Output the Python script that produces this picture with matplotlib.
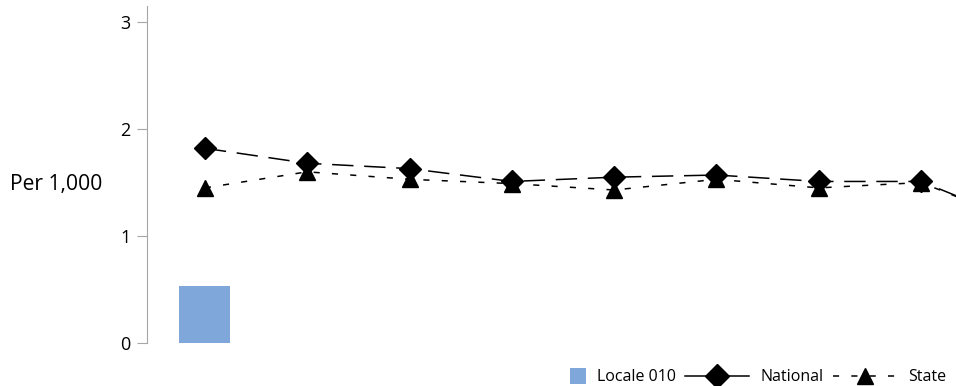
import matplotlib
matplotlib.use("Agg")
import matplotlib.pyplot as plt
from matplotlib.lines import Line2D
from matplotlib.patches import Patch, Rectangle
from matplotlib.legend_handler import HandlerPatch

plt.rcParams['font.family'] = ['Open Sans', 'DejaVu Sans']

# data (9th point is cut off by the right edge)
positions = list(range(9))
locale_vals = [0.53]
national = [1.82, 1.68, 1.63, 1.51, 1.55, 1.57, 1.51, 1.51, 1.12]
state = [1.45, 1.60, 1.53, 1.49, 1.43, 1.53, 1.45, 1.50, 1.12]
yticks = [0, 1, 2, 3]

bar_color = '#7FA7D9'
spine_gray = '#A6A6A6'

fig = plt.figure(figsize=(9.56, 3.86), dpi=100)
# axes run past the right edge of the figure, like the original
ax = fig.add_axes([147/956, 43/386, (979-147)/956, (343-6)/386])

ax.bar(positions[:len(locale_vals)], locale_vals, width=0.5, color=bar_color, zorder=1)
ax.plot(positions, national, color='black', lw=1.1, dashes=(14, 7),
        marker='D', ms=11, zorder=3)
ax.plot(positions, state, color='black', lw=1.1, dashes=(4, 8),
        marker='^', ms=11, zorder=2)

ax.set_xlim(-0.566, 7.566)
ax.set_ylim(0, 3.15)
ax.set_yticks(yticks)
ax.set_xticks([])
ax.tick_params(axis='y', direction='out', length=7, color=spine_gray,
               labelsize=13, pad=5)
for s in ['top', 'right', 'bottom']:
    ax.spines[s].set_visible(False)
ax.spines['left'].set_color(spine_gray)

fig.text(10/956, 1-185/386, 'Per 1,000', ha='left', va='center', fontsize=15.2)


def square_patch(legend, orig_handle, xdescent, ydescent, width, height, fontsize):
    s = fontsize * 1.0
    return Rectangle((-xdescent + width - s, -ydescent + (height - s) / 2), s, s)


loc_handle = Patch(facecolor=bar_color, edgecolor='none')
handles = [
    loc_handle,
    Line2D([], [], color='black', lw=1.1, marker='D', ms=12),
    Line2D([], [], color='black', lw=1.1, dashes=(4, 8), marker='^', ms=11),
]
fig.legend(handles, ['Locale 010', 'National', 'State'], ncol=3,
           loc='lower right', bbox_to_anchor=(1.005, -0.035), frameon=False,
           fontsize=11.5, handlelength=4.0, handletextpad=0.7, columnspacing=0.6,
           handler_map={loc_handle: HandlerPatch(patch_func=square_patch)})

fig.savefig('out.png', dpi=100)
